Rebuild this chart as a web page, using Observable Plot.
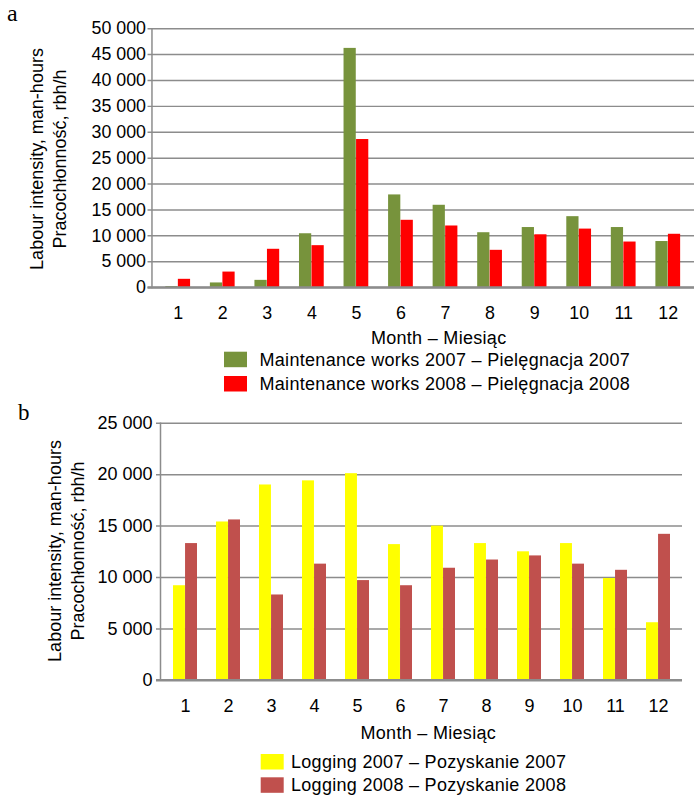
<!DOCTYPE html>
<html>
<head>
<meta charset="utf-8">
<script src="https://cdn.jsdelivr.net/npm/d3@7"></script>
<script src="https://cdn.jsdelivr.net/npm/@observablehq/plot@0.6"></script>
<style>
  html, body { margin: 0; padding: 0; background: #fff; overflow: hidden; }
  #page { position: relative; width: 694px; height: 795px; overflow: hidden; background: #fff; }
  #page > .chart { position: absolute; left: 0; }
  #overlay { position: absolute; left: 0; top: 0; pointer-events: none; }
  #overlay text { font-family: "Liberation Sans", Arial, sans-serif; font-size: 18px; fill: #000; }
  #overlay text.wide { letter-spacing: 0.3px; }
  #overlay text.panel { font-family: "Liberation Serif", "Times New Roman", serif; }
</style>
</head>
<body>
<div id="page"></div>
<script>
// ---- data ----
const months = [1, 2, 3, 4, 5, 6, 7, 8, 9, 10, 11, 12];
const maintenance2007 = [200, 900, 1400, 10400, 46200, 17900, 15900, 10600, 11600, 13700, 11600, 8900];
const maintenance2008 = [1600, 3000, 7400, 8100, 28600, 13000, 11900, 7200, 10200, 11300, 8800, 10300];
const logging2007 = [9200, 15400, 19000, 19400, 20100, 13200, 15000, 13300, 12500, 13300, 9900, 5600];
const logging2008 = [13300, 15600, 8300, 11300, 9700, 9200, 10900, 11700, 12100, 11300, 10700, 14200];
const yTicksA = [0, 5000, 10000, 15000, 20000, 25000, 30000, 35000, 40000, 45000, 50000];
const yTicksB = [0, 5000, 10000, 15000, 20000, 25000];
const seriesLabelsA = ["Maintenance works 2007 – Pielęgnacja 2007", "Maintenance works 2008 – Pielęgnacja 2008"];
const seriesLabelsB = ["Logging 2007 – Pozyskanie 2007", "Logging 2008 – Pozyskanie 2008"];
const colorsA = ["#77933C", "#FF0000"];
const colorsB = ["#FFFF00", "#C0504D"];
const yLabel = ["Labour intensity, man-hours", "Pracochłonność, rbh/h"];
const xLabel = "Month – Miesiąc";

const FONT = '"Liberation Sans", Arial, sans-serif';
const GRID = "#8c8c8c";
const fmt = d => d === 0 ? "0" : d3.format(",")(d).replace(/,/g, " ");

function makeChart({a, b, colors, ticks, ymax, width, height, marginLeft, marginTop, marginBottom, tickPad}) {
  const data = months.map((m, i) => ({month: m, v1: a[i], v2: b[i]}));
  const padInner = 0.446;
  const step = (width - marginLeft) / months.length;
  const half = step * (1 - padInner) / 2;
  return Plot.plot({
    width, height, marginLeft, marginRight: 0, marginTop, marginBottom,
    style: {fontFamily: FONT, fontSize: "18px", color: "#000", background: "transparent", overflow: "visible"},
    x: {type: "band", domain: months, paddingInner: padInner, paddingOuter: padInner / 2, label: null},
    y: {domain: [0, ymax], label: null},
    marks: [
      Plot.ruleY(ticks, {stroke: GRID, strokeWidth: 1.5, insetLeft: -4}),
      Plot.frame({anchor: "left", stroke: GRID, strokeWidth: 1.5}),
      Plot.barY(data, {x: "month", y: "v1", fill: colors[0], insetLeft: 0, insetRight: half}),
      Plot.barY(data, {x: "month", y: "v2", fill: colors[1], insetLeft: half, insetRight: 0}),
      Plot.ruleY([0], {stroke: GRID, strokeWidth: 2.5, insetLeft: -4}),
      Plot.axisX({tickSize: 0, tickPadding: 19, label: null}),
      Plot.axisY({ticks, tickFormat: fmt, tickSize: 0, tickPadding: tickPad, label: null})
    ]
  });
}

const page = document.getElementById("page");

const chartA = makeChart({a: maintenance2007, b: maintenance2008, colors: colorsA, ticks: yTicksA, ymax: 50000,
  width: 701, height: 330, marginLeft: 153, marginTop: 28.5, marginBottom: 40, tickPad: 6});
chartA.classList.add("chart");
chartA.style.top = "0px";
page.appendChild(chartA);

const chartB = makeChart({a: logging2007, b: logging2008, colors: colorsB, ticks: yTicksB, ymax: 25000,
  width: 682, height: 310, marginLeft: 160, marginTop: 22.8, marginBottom: 30.2, tickPad: 8});
chartB.classList.add("chart");
chartB.style.top = "400px";
page.appendChild(chartB);

// ---- overlay texts and legends ----
const svg = d3.select(page).append("svg").attr("id", "overlay").attr("width", 694).attr("height", 795);

svg.append("text").attr("class", "panel").attr("x", 7).attr("y", 21).style("font-size", "24px").text("a");
svg.append("text").attr("class", "panel").attr("x", 18).attr("y", 420).style("font-size", "23px").text("b");

function yLab(x1, x2, cy) {
  [x1, x2].forEach((x, i) => {
    svg.append("text").attr("transform", `translate(${x},${cy}) rotate(-90)`)
      .attr("text-anchor", "middle").text(yLabel[i]);
  });
}
yLab(42.5, 65.5, 159);
yLab(61, 83.5, 551);

svg.append("text").attr("class", "wide").attr("x", 438.7).attr("y", 343.5).attr("text-anchor", "middle").text(xLabel);
svg.append("text").attr("class", "wide").attr("x", 428.3).attr("y", 738.5).attr("text-anchor", "middle").text(xLabel);

function legend(x, tx, ys, labels, colors) {
  ys.forEach((y, i) => {
    svg.append("rect").attr("x", x).attr("y", y).attr("width", 23).attr("height", 15.5).attr("fill", colors[i]);
    svg.append("text").attr("class", "wide").attr("x", tx).attr("y", y + 7.75 + 6.4).text(labels[i]);
  });
}
legend(224, 259.5, [351.7, 376], seriesLabelsA, colorsA);
legend(260.7, 291, [754, 777.3], seriesLabelsB, colorsB);
</script>
</body>
</html>
